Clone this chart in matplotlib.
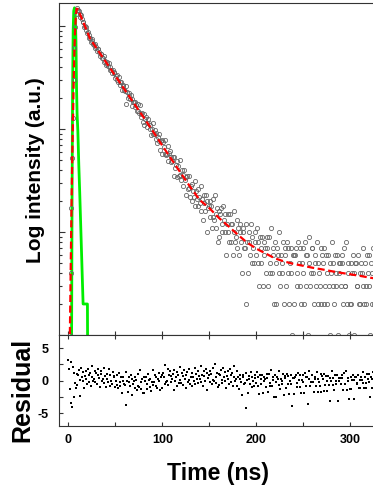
import numpy as np
import matplotlib.pyplot as plt
from matplotlib.ticker import MultipleLocator, LogLocator, NullFormatter

# photon counts per 0.8 ns channel, starting at t = 0
CHANNEL_NS = 0.8
COUNTS = [
    0, 0, 1, 4, 17, 52, 128, 296, 615, 972, 1302, 1493, 1414, 1431, 1411, 1303, 1233, 1267, 1169, 1100, 1101, 981, 997, 979, 904,
    847, 880, 819, 757, 764, 692, 712, 742, 665, 656, 670, 609, 631, 572, 591, 599, 554, 507, 540, 536, 491, 484, 510, 449, 460,
    420, 451, 425, 405, 435, 373, 396, 370, 350, 377, 354, 348, 309, 328, 335, 300, 284, 319, 287, 268, 285, 239, 262, 266, 241,
    235, 260, 174, 229, 199, 225, 210, 195, 214, 166, 196, 182, 183, 165, 183, 172, 148, 176, 149, 143, 171, 132, 141, 144, 116,
    139, 109, 126, 131, 115, 104, 126, 113, 100, 110, 87, 99, 114, 89, 90, 98, 80, 91, 73, 84, 90, 76, 62, 77, 79,
    57, 74, 67, 57, 79, 56, 57, 69, 49, 59, 61, 48, 53, 49, 53, 35, 54, 42, 45, 49, 34, 44, 35, 50, 36,
    32, 40, 28, 36, 40, 32, 23, 34, 35, 26, 27, 35, 22, 28, 20, 29, 25, 22, 31, 18, 25, 21, 18, 26, 22,
    19, 28, 16, 21, 13, 23, 19, 16, 23, 10, 20, 17, 18, 14, 20, 18, 11, 21, 14, 13, 23, 11, 15, 17, 8,
    16, 9, 15, 17, 12, 10, 18, 13, 10, 15, 6, 12, 15, 10, 8, 15, 12, 8, 12, 6, 10, 16, 8, 9, 13,
    7, 11, 6, 10, 12, 8, 4, 10, 11, 7, 7, 12, 2, 8, 4, 10, 8, 6, 12, 5, 9, 7, 5, 10, 8,
    6, 11, 5, 8, 3, 9, 7, 5, 9, 3, 8, 6, 7, 4, 9, 7, 3, 9, 5, 4, 11, 4, 6, 7, 2,
    8, 5, 2, 7, 6, 4, 10, 3, 6, 5, 4, 8, 2, 7, 6, 3, 8, 4, 7, 2, 5, 7, 4, 1, 6,
    6, 2, 6, 7, 4, 3, 8, 5, 3, 7, 2, 5, 7, 4, 2, 8, 6, 3, 6, 1, 5, 9, 3, 4, 7,
    7, 4, 2, 6, 5, 3, 8, 2, 5, 4, 3, 7, 2, 6, 5, 2, 7, 3, 6, 2, 4, 6, 3, 1, 5,
    4, 8, 3, 5, 2, 6, 4, 3, 6, 1, 5, 4, 5, 3, 6, 5, 2, 7, 3, 3, 8, 2, 4, 5, 1,
    2, 5, 2, 4, 6, 4, 1, 5, 5, 3, 3, 6, 2, 4, 2, 5, 4, 3, 7, 2, 5, 3, 2, 6, 4,
    6, 3, 1, 5, 4, 2, 7, 2, 4, 4, 3, 6,
]

# weighted residuals, same channels
RESIDUALS = [
    3.2, 1.8, -1.3, 2.9, -3.4, -4.0, 2.1, -2.6, 1.2, -0.4, -1.1, 1.0, -0.7, 0.8, 1.6, 0.1, -2.4, 2.0, 0.6, -0.1, 1.3, -1.1, 0.7, 1.4, 0.2,
    -0.5, 1.8, 0.9, -0.2, 1.1, -0.9, 0.5, 2.3, 0.0, 0.3, 1.5, -0.3, 1.2, -0.6, 0.8, 1.7, 0.4, -1.0, 1.0, 1.4, -0.1, 0.2, 1.9, -0.4, 0.7,
    -1.0, 1.0, 0.3, -0.2, 1.8, -0.8, 0.8, 0.0, -0.6, 1.3, 0.5, 0.7, -1.0, 0.0, 0.8, -0.7, -1.2, 1.2, -0.2, -0.9, 0.5, -1.9, -0.1, 0.6, -0.6,
    -0.7, 1.3, -3.7, 0.0, -1.7, 0.5, -0.2, -0.9, 0.8, -2.3, 0.2, -0.5, -0.1, -1.1, 0.6, 0.1, -1.5, 1.0, -0.8, -1.0, 1.6, -1.3, -0.3, 0.3, -1.9,
    0.5, -1.9, -0.1, 0.6, -0.6, -1.3, 1.0, 0.1, -1.0, 0.3, -1.6, -0.2, 1.6, -0.7, -0.3, 0.9, -0.9, 0.6, -1.1, 0.3, 1.2, -0.1, -1.5, 0.5, 0.9,
    -1.1, 1.1, 0.5, -0.5, 2.4, -0.2, 0.0, 1.8, -0.7, 0.9, 1.4, -0.3, 0.7, 0.3, 1.0, -1.5, 1.6, -0.1, 0.6, 1.3, -0.9, 0.8, -0.4, 2.1, 0.1,
    -0.4, 1.1, -0.7, 0.7, 1.6, 0.3, -1.1, 0.9, 1.3, -0.2, 0.1, 1.8, -0.5, 0.6, -0.8, 1.2, 0.5, 0.0, 2.0, -0.6, 1.0, 0.2, -0.4, 1.5, 0.7,
    0.2, 2.2, -0.3, 0.9, -0.8, 1.4, 0.7, 0.0, 1.7, -1.4, 1.1, 0.4, 0.8, -0.2, 1.5, 1.0, -0.6, 1.9, 0.1, -0.1, 2.5, -0.4, 0.6, 1.2, -1.0,
    1.0, -0.7, 0.8, 1.6, 0.1, -0.4, 2.0, 0.6, -0.1, 1.3, -1.1, 0.7, 1.4, 0.2, -0.5, 1.8, 0.9, -0.2, 1.1, -0.9, 0.5, 2.3, 0.0, 0.3, 1.5,
    -0.9, 0.5, -1.3, 0.3, 0.9, -0.3, -2.3, 0.5, 0.8, -0.5, -0.4, 1.1, -4.2, 0.1, -1.9, 0.7, 0.2, -0.6, 1.3, -1.0, 0.6, -0.1, -0.9, 0.9, 0.4,
    -0.4, 1.3, -0.8, 0.5, -2.1, 0.8, 0.2, -0.6, 0.9, -1.9, 0.6, -0.1, 0.3, -1.0, 1.0, 0.4, -1.7, 1.0, -0.4, -0.9, 1.6, -0.9, 0.1, 0.5, -2.5,
    0.9, -0.2, -2.5, 0.6, 0.2, -0.7, 1.5, -1.3, 0.3, -0.1, -0.6, 1.0, -2.3, 0.7, 0.4, -1.2, 1.0, -0.5, 0.7, -2.1, 0.0, 0.8, -0.5, -3.9, 0.4,
    0.4, -2.0, 0.5, 0.8, -0.4, -1.0, 1.1, 0.1, -1.0, 0.9, -1.9, 0.1, 0.9, -0.3, -1.9, 1.2, 0.6, -0.9, 0.6, -3.6, 0.2, 1.5, -0.9, -0.3, 0.9,
    0.9, -0.2, -1.7, 0.6, 0.2, -0.8, 1.3, -1.7, 0.3, -0.2, -0.8, 1.0, -1.7, 0.7, 0.3, -1.6, 1.0, -0.7, 0.7, -1.6, -0.1, 0.7, -0.7, -3.2, 0.4,
    -0.1, 1.4, -0.7, 0.4, -1.5, 0.8, 0.0, -0.6, 0.8, -3.1, 0.4, 0.0, 0.4, -0.6, 0.8, 0.4, -1.4, 1.1, -0.6, -0.5, 1.4, -1.4, 0.0, 0.4, -2.9,
    -1.3, 0.5, -1.3, 0.1, 0.9, 0.1, -2.8, 0.5, 0.5, -0.5, -0.4, 0.9, -1.2, 0.1, -1.2, 0.6, 0.1, -0.4, 1.3, -1.2, 0.6, -0.4, -1.2, 1.0, 0.2,
    1.0, -0.3, -2.6, 0.6, 0.2, -1.1, 1.3, -1.1, 0.2, 0.2, -0.3, 1.0,
]

# fitted decay (red dashed)
FIT_TIME = [1.0, 1.6, 2.4, 3.2, 4.0, 4.8, 5.6, 6.4, 7.2, 8.0, 8.8, 9.6, 10.4, 12, 14, 16, 18, 20, 23,
            30, 40, 50, 60, 70, 80, 90, 100, 110, 120, 130, 140, 150, 160, 170, 180, 190, 200,
            210, 220, 230, 240, 250, 260, 270, 280, 290, 300, 310, 320, 330]
FIT_COUNTS = [0.5, 1.2, 4.5, 17, 52, 125, 300, 610, 975, 1300, 1470, 1460, 1420, 1318, 1190, 1075, 971, 877, 752,
              606, 445, 327, 240, 176, 130, 95, 69, 50.5, 37, 27.2, 20.4, 17.1, 13.8, 11.5, 9.5, 7.95, 6.9,
              6.2, 5.55, 5.17, 4.9, 4.7, 4.5, 4.34, 4.17, 4.02, 3.89, 3.76, 3.62, 3.5]

# instrument response (green)
IRF_TIME = [3.0, 3.4, 3.8, 4.4, 5.0, 5.6, 6.4, 7.2, 8.0, 8.6, 9.2, 10.0, 11.0, 12.0, 13.0, 14.0, 15.0, 15.6, 20.2, 20.6]
IRF_COUNTS = [0.3, 1.5, 20, 250, 900, 1400, 1500, 1300, 700, 250, 140, 95, 45, 24, 12, 6, 3, 2, 2, 0.3]

plt.rcParams["font.family"] = ["Liberation Sans", "DejaVu Sans"]
plt.rcParams["font.weight"] = "bold"
SPINE = "#333333"

fig = plt.figure(figsize=(3.73, 4.86), dpi=100)
W, H = 373, 486
ax = fig.add_axes([59 / W, 1 - 335 / H, 318 / W, 332 / H])
axr = fig.add_axes([59 / W, 1 - 426 / H, 318 / W, 91 / H], sharex=ax)

t = np.arange(len(COUNTS)) * CHANNEL_NS
counts = np.array(COUNTS, dtype=float)
keep = counts > 0

ax.plot(IRF_TIME, IRF_COUNTS, color="#00ee00", lw=2.0, zorder=1)
ax.plot(t[keep], counts[keep], ls="none", marker="o", ms=3.0, mfc="none",
        mec="#666666", mew=0.6, zorder=2)
ax.plot(FIT_TIME, FIT_COUNTS, color="red", lw=1.6, ls=(0, (3.2, 1.6)), zorder=3)

ax.set_yscale("log")
ax.set_ylim(1, 1670)
ax.set_xlim(-10.1, 328.9)
ax.yaxis.set_major_locator(LogLocator(base=10))
ax.yaxis.set_minor_locator(LogLocator(base=10, subs=np.arange(2, 10)))
ax.yaxis.set_minor_formatter(NullFormatter())
ax.xaxis.set_major_locator(MultipleLocator(100))
ax.xaxis.set_minor_locator(MultipleLocator(50))
ax.tick_params(which="both", direction="in", left=True, bottom=True, top=False, right=False,
               labelleft=False, labelbottom=False, color=SPINE, width=0.8)
ax.tick_params(which="major", length=4)
ax.tick_params(which="minor", length=2.5)
ax.tick_params(axis="x", which="both", length=3)

axr.plot(t, RESIDUALS, ls="none", marker="s", ms=1.6, mew=0, color="black")
axr.set_ylim(-7, 7)
axr.set_yticks([-5, 0, 5])
axr.set_yticklabels(["-5", "0", "5"])
axr.yaxis.set_minor_locator(MultipleLocator(2.5))
axr.set_xticks([0, 100, 200, 300])
axr.tick_params(which="both", direction="in", left=True, bottom=True, top=True, right=False,
                length=3, color=SPINE, width=0.8, labelsize=9)
axr.tick_params(axis="y", pad=7.5)
axr.tick_params(axis="x", pad=6)

for a in (ax, axr):
    for s in a.spines.values():
        s.set_color(SPINE)
        s.set_linewidth(0.8)

fig.text(36 / W, 1 - 170 / H, "Log intensity (a.u.)", rotation=90, ha="center", va="center",
         fontsize=15, fontweight="bold")
fig.text(22.5 / W, 1 - 390 / H, "Residual", rotation=90, ha="center", va="center",
         fontsize=18, fontweight="bold")
fig.text(218 / W, 1 - 473 / H, "Time (ns)", ha="center", va="center",
         fontsize=16.7, fontweight="bold")

fig.savefig("out.png", dpi=100)
